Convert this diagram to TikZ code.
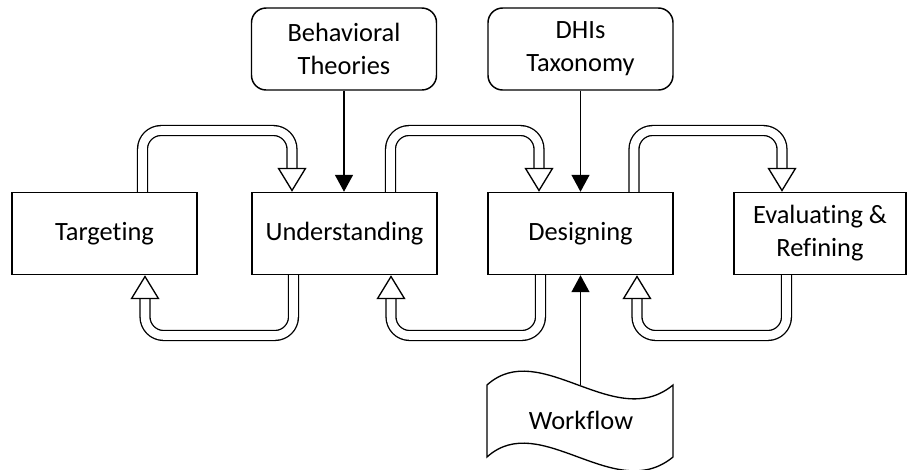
\documentclass[tikz,border=0pt]{standalone}
\usepackage{fontspec}
\setmainfont{Carlito}[Ligatures={NoCommon,NoContextual}, RawFeature={-liga;-clig;-dlig}]
\usetikzlibrary{arrows.meta,backgrounds}
\tikzset{
  stage/.style={draw, line width=1.1pt, minimum width=138.75pt, minimum height=61.5pt, inner sep=0pt, align=center, font=\fontsize{19.8}{24.75}\selectfont},
  source/.style={stage, rounded corners=11pt},
  feed/.style={line width=1.1pt, -{Triangle[length=12.75pt, width=13.5pt]}},
  loopline/.style={line width=1pt, double=white, double distance=6.4pt, rounded corners=14pt},
  loophead/.style={line width=1pt, -{Triangle[length=18pt, width=21.75pt, fill=white]}},
}
\begin{document}
\begin{tikzpicture}[x=0.75pt, y=-0.75pt]
\useasboundingbox (0,0) rectangle (908,469);
\node[stage] (T) at (104.5,233.5) {Targeting};
\node[stage] (U) at (344.5,233.5) {Understanding};
\node[stage] (D) at (580.5,233.5) {Designing};
\node[stage, minimum width=129pt] (E) at (820,233.5) {Evaluating \&\\Refining};
\node[source] (B) at (344,49) {Behavioral\\Theories};
\node[source] (X) at (580.5,49) {DHIs\\Taxonomy};
% workflow document
\node[font=\fontsize{19.8}{24.75}\selectfont] (W) at (581,420) {Workflow};
\draw[line width=1pt] (487,385) .. controls (540,337) and (615,433) .. (673,385) -- (673,457)
  .. controls (615,505) and (540,409) .. (487,457) -- cycle;
\coordinate (wtop) at (580.5,385);
\draw[feed] (B.south) -- (B.south |- U.north);
\draw[feed] (X.south) -- (X.south |- D.north);
\draw[feed] (wtop) -- (wtop |- D.south);
\begin{scope}[on background layer]
% forward loops over the top
\draw[loopline] (142.5,0 |- T.north) |- (292,130.5) -- (292,169);
\draw[loophead] (292,169) -- (292,0 |- U.north);
\draw[loopline] (390.5,0 |- U.north) |- (539,130.5) -- (539,169);
\draw[loophead] (539,169) -- (539,0 |- D.north);
\draw[loopline] (634,0 |- D.north) |- (782,130.5) -- (782,169);
\draw[loophead] (782,169) -- (782,0 |- E.north);
% feedback loops underneath
\draw[loopline] (293.5,0 |- U.south) |- (145,335.5) -- (145,298);
\draw[loophead] (145,298) -- (145,0 |- T.south);
\draw[loopline] (540.5,0 |- D.south) |- (391,335.5) -- (391,298);
\draw[loophead] (391,298) -- (391,0 |- U.south);
\draw[loopline] (786.5,0 |- E.south) |- (637,335.5) -- (637,298);
\draw[loophead] (637,298) -- (637,0 |- D.south);
\end{scope}
\end{tikzpicture}
\end{document}
